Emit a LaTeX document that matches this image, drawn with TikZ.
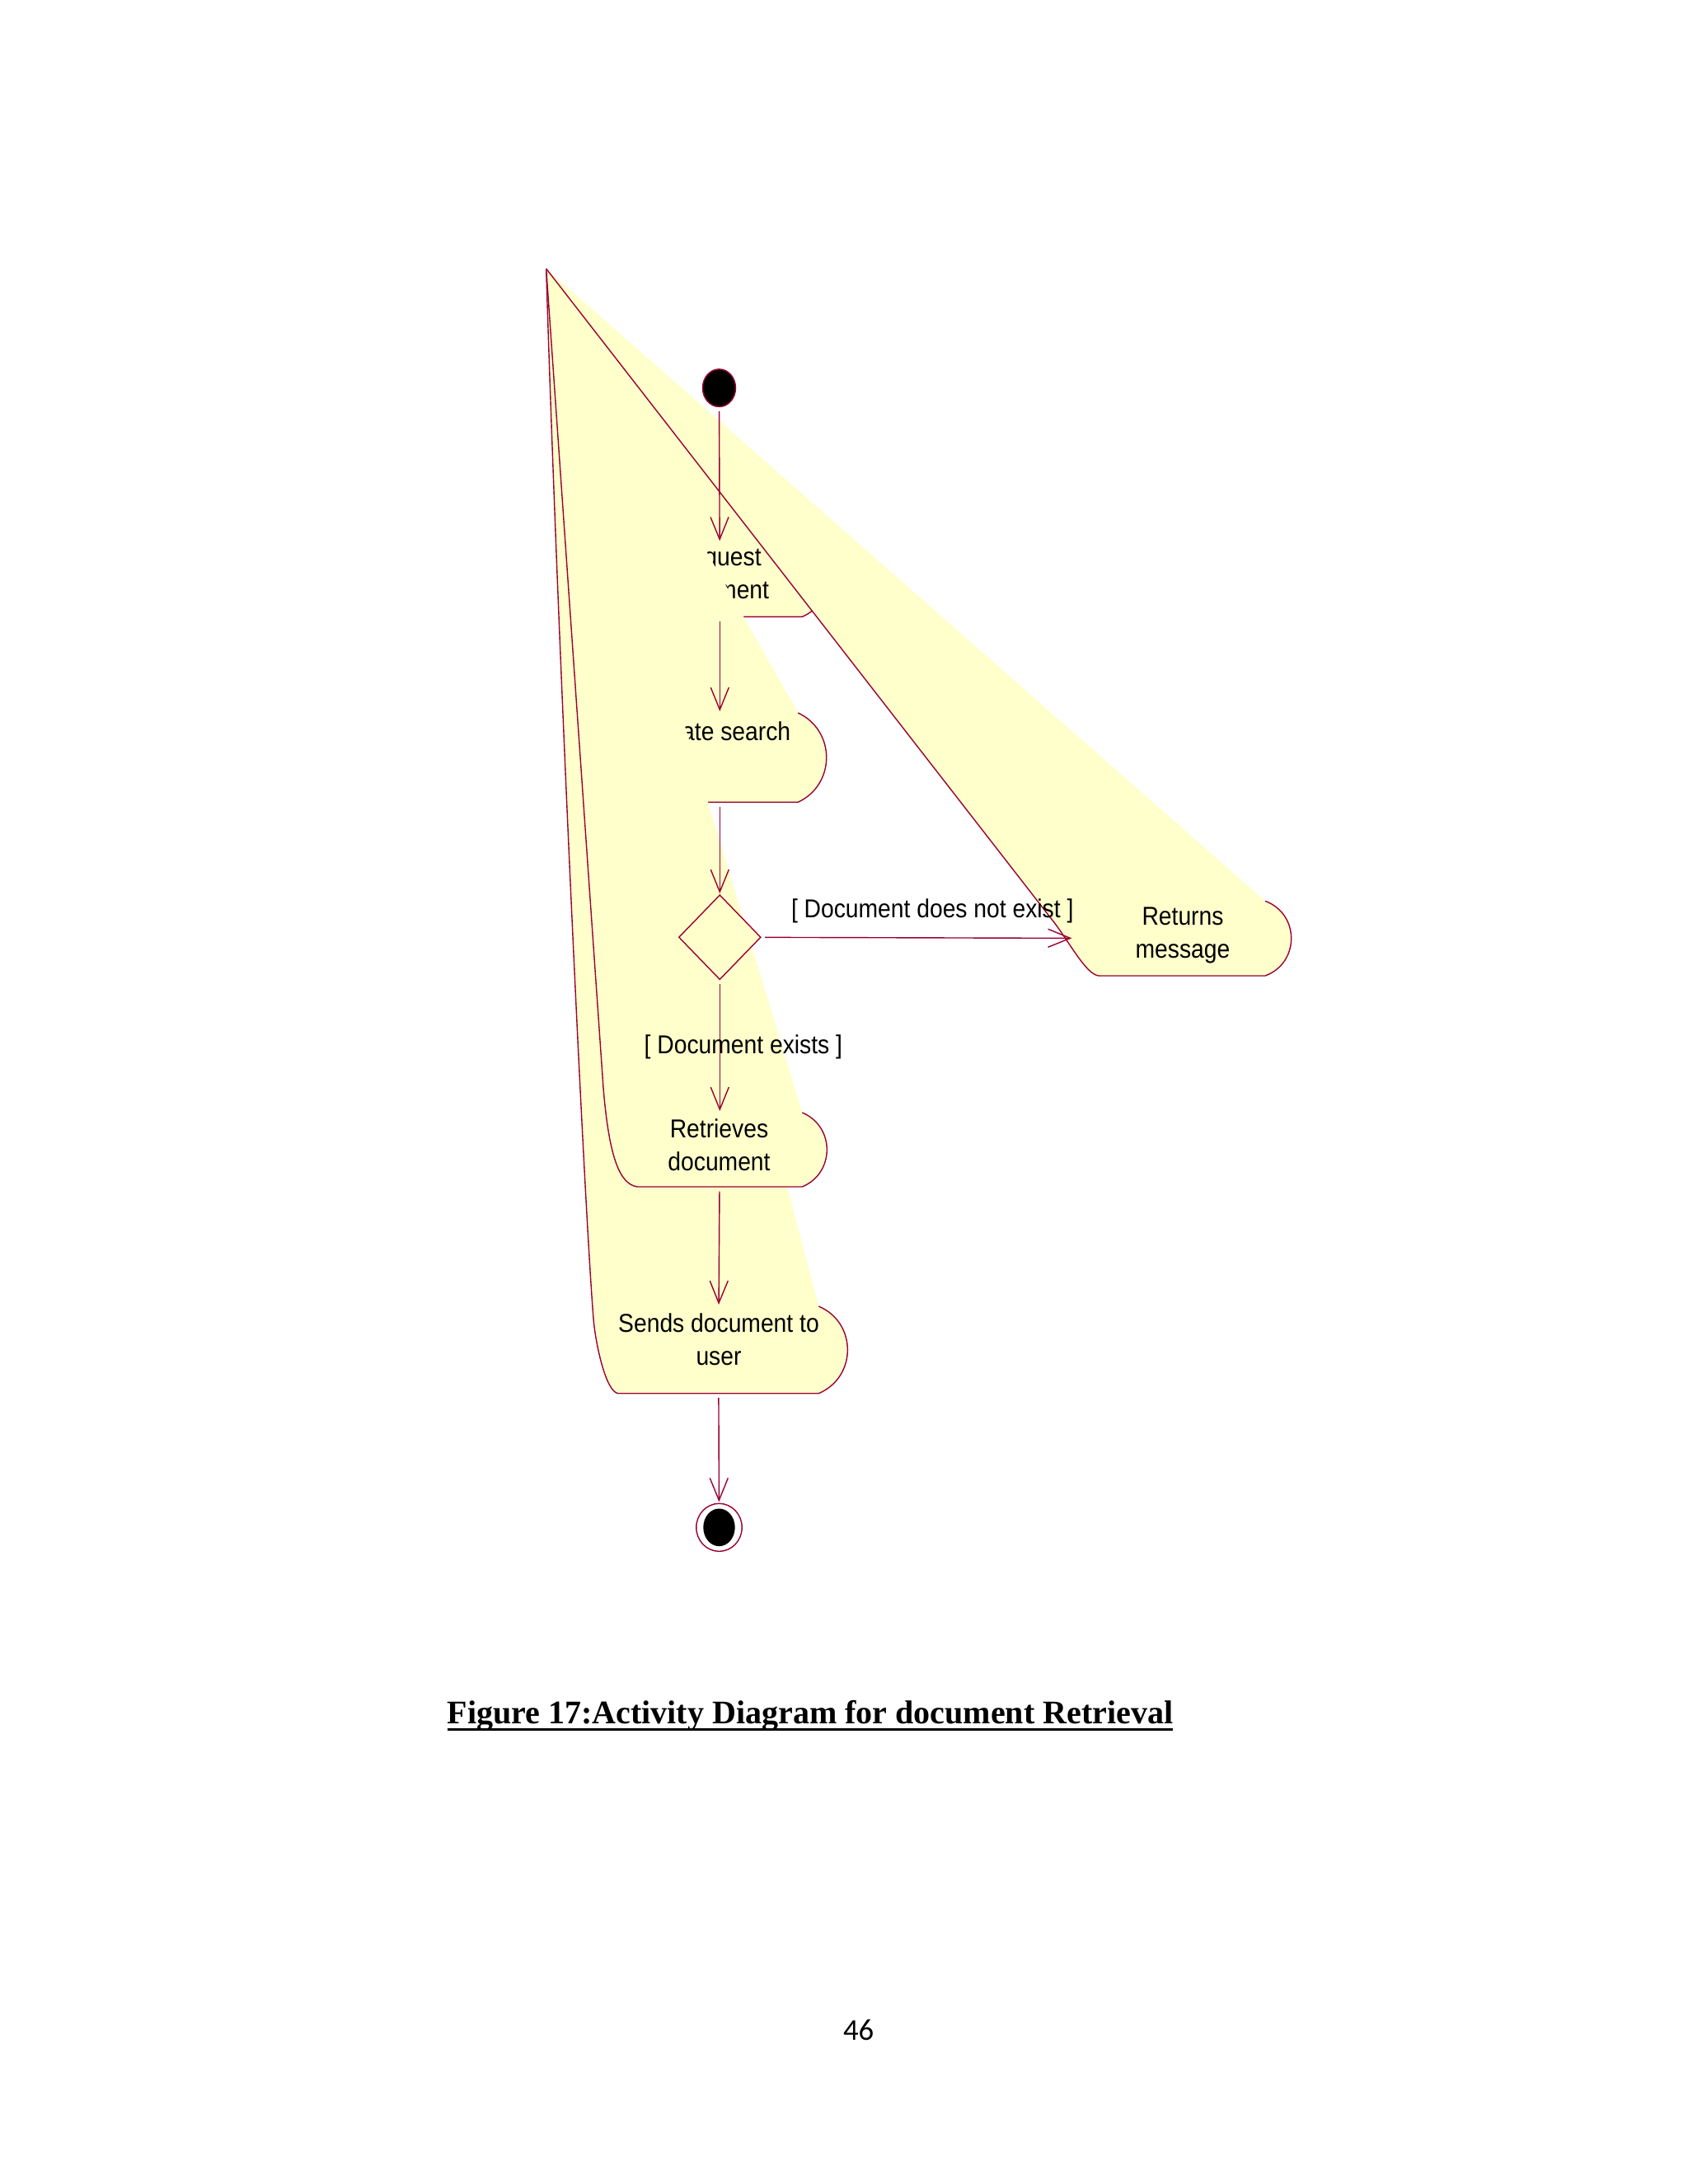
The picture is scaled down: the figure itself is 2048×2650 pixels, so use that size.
\documentclass[tikz,border=0pt]{standalone}
\usepackage{fontspec}
\usepackage{tikz}
\usetikzlibrary{arrows.meta,shapes.geometric}
\definecolor{rosered}{HTML}{990033}
\definecolor{roseyellow}{HTML}{FFFFCC}
\newfontfamily\rosefont[FakeStretch=0.9]{Liberation Sans}
\newfontfamily\capfont{Liberation Serif}
\newfontfamily\pagefont{Carlito}

\begin{document}
\begin{tikzpicture}[x=0.01cm, y=-0.01cm,
            every node/.style={inner sep=0pt, outer sep=0pt},
            act/.style={rectangle},
            acttext/.style={font=\rosefont\fontsize{8.93}{11.38}\selectfont, align=center},
            guard/.style={font=\rosefont\fontsize{8.93}{11.38}\selectfont, anchor=base west},
            actshape/.style={fill=roseyellow, draw=rosered, line width=0.4pt},
            startdot/.style={ellipse, draw=rosered, fill=black, line width=0.4pt,
                minimum width=0.4cm, minimum height=0.456cm},
            enddot/.style={ellipse, draw=rosered, line width=0.4pt,
                minimum width=0.554cm, minimum height=0.58cm,
                path picture={\fill[black] (path picture bounding box.center)
                    ellipse [x radius=0.192cm, y radius=0.228cm];}},
            branch/.style={diamond, draw=rosered, fill=roseyellow, line width=0.4pt,
                minimum width=0.99cm, minimum height=1.023cm},
            flow/.style={draw=rosered, line width=0.4pt,
                -{Straight Barb[length=0.27cm, width=0.22cm]},
                shorten <=0.055cm, shorten >=0.02cm}]
            \useasboundingbox (0,0) rectangle (2048,2650);
            \coordinate (apex) at (662.7,326);

            \path[actshape] (973.3,658.3) .. controls +(40,16.7) and +(40,-16.7) .. (973.3,748.3)
                -- (773.3,748.3) .. controls (750,745) and (742,720) .. (740,690) -- (apex);
            \node[act, minimum width=2.6cm, minimum height=0.9cm] (request) at (873.3,703.3) {};
            \node[acttext] (request-lbl) at (871,696) {Request~\\document};

            \path[actshape] (968.3,865) .. controls +(45.9,21.5) and +(45.9,-21.5) .. (968.3,973.3)
                -- (778.3,973.3) .. controls (755,970) and (747,945) .. (744,905) -- (apex);
            \node[act, minimum width=2.588cm, minimum height=1.083cm] (search) at (873.3,919.2) {};
            \node[acttext] (search-lbl) at (871.2,886.8) {Initiate search};

            \path[actshape] (1535,1093.3) .. controls +(42.2,15.5) and +(42.2,-15.5) .. (1535,1184)
                -- (1333.3,1184) .. controls (1318,1183) and (1297.4,1143) .. (1278,1118) -- (apex);
            \node[act, minimum width=2.634cm, minimum height=0.907cm] (returns) at (1434.2,1138.7) {};
            \node[acttext] (returns-lbl) at (1435,1135.4) {Returns~\\message};

            \path[actshape] (993.3,1585) .. controls +(46.7,19.8) and +(46.7,-19.8) .. (993.3,1690.7)
                -- (750,1690.7) .. controls (735,1689) and (722.4,1630) .. (720,1600)
                .. controls (708,1450) and (674.7,726) .. (apex);
            \node[act, minimum width=3.133cm, minimum height=1.057cm] (send) at (871.7,1637.8) {};
            \node[acttext] (send-lbl) at (872,1625.1) {Sends document to~\\user};

            \path[actshape] (973.3,1350) .. controls +(40,16.7) and +(40,-16.7) .. (973.3,1440)
                -- (773.3,1440) .. controls (752,1437) and (739,1405) .. (732,1320) -- (apex);
            \node[act, minimum width=2.6cm, minimum height=0.9cm] (retrieve) at (873.3,1395) {};
            \node[acttext] (retrieve-lbl) at (872.5,1389) {Retrieves~\\document};

            \node[branch] (branch) at (873.3,1137.2) {};
            \node[startdot] (start) at (872.5,470.7) {};
            \node[enddot] (stop) at (872.5,1853.3) {};

            \path[flow] (start) edge (request)
                        (request) edge (search)
                        (search) edge (branch)
                        (branch) edge (returns)
                        (branch) edge (retrieve)
                        (retrieve) edge (send)
                        (send) edge (stop);

            \node[guard] (notexist) at (960,1113.3) {[ Document does not exist ]};
            \node[guard] (exists) at (781.7,1278.3) {[ Document exists ]};

            \node[anchor=base west, font=\capfont\bfseries\fontsize{11.38}{13.7}\selectfont]
                (caption) at (542.7,2091.7) {Figure 17:Activity Diagram for document Retrieval};
            \draw[line width=0.85pt] ([yshift=-0.068cm]caption.base west) -- ([yshift=-0.068cm]caption.base east);
            \node[anchor=base, font=\pagefont\fontsize{10.43}{12.5}\selectfont] (pagenum) at (1041.7,2475) {46};
        \end{tikzpicture}
\end{document}
